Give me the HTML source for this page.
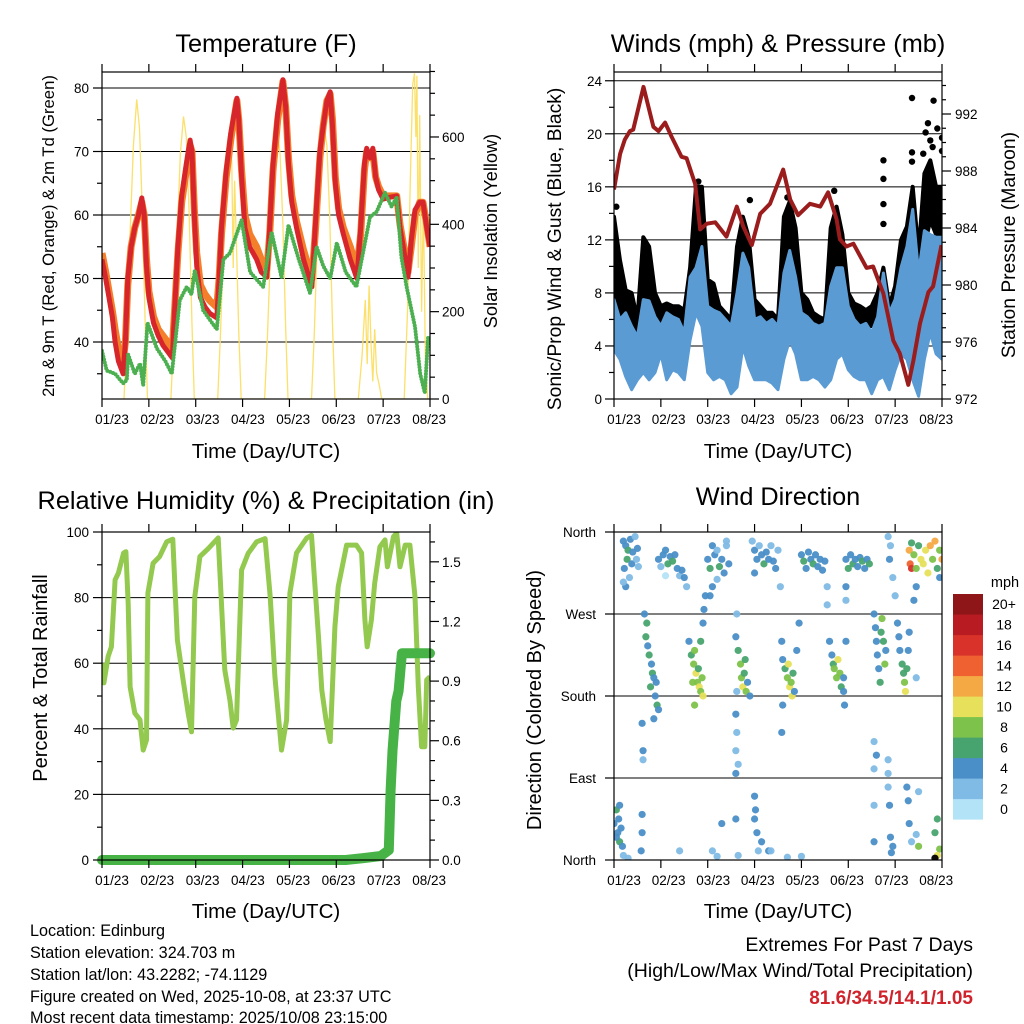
<!DOCTYPE html>
<html><head><meta charset="utf-8"><style>
body{margin:0;background:#fff}
svg{display:block;font-family:"Liberation Sans",sans-serif}
</style></head><body>
<svg id="chart" width="1024" height="1024" viewBox="0 0 1024 1024" xmlns="http://www.w3.org/2000/svg">
<rect width="1024" height="1024" fill="#fff"/>
<defs>
<clipPath id="c1"><rect x="102" y="72" width="328" height="327"/></clipPath>
<clipPath id="c2"><rect x="614" y="72" width="328" height="327"/></clipPath>
<clipPath id="c3"><rect x="102" y="532" width="328" height="328"/></clipPath>
<clipPath id="c4"><rect x="614" y="532" width="328" height="328"/></clipPath>
</defs>
<text x="266" y="52" font-size="25.3" text-anchor="middle">Temperature (F)</text>
<text x="778" y="52" font-size="25.3" text-anchor="middle">Winds (mph) &amp; Pressure (mb)</text>
<text x="266" y="509" font-size="25.3" text-anchor="middle">Relative Humidity (%) &amp; Precipitation (in)</text>
<text x="778" y="505" font-size="25.3" text-anchor="middle">Wind Direction</text>
<text transform="translate(54,236) rotate(-90)" font-size="16.7" text-anchor="middle">2m &amp; 9m T (Red, Orange) &amp; 2m Td (Green)</text>
<text transform="translate(497,231) rotate(-90)" font-size="18.2" text-anchor="middle">Solar Insolation (Yellow)</text>
<text transform="translate(561,249) rotate(-90)" font-size="19.3" text-anchor="middle">Sonic/Prop Wind &amp; Gust (Blue, Black)</text>
<text transform="translate(1015,245) rotate(-90)" font-size="19.3" text-anchor="middle">Station Pressure (Maroon)</text>
<text transform="translate(47,678) rotate(-90)" font-size="20" text-anchor="middle">Percent &amp; Total Rainfall</text>
<text transform="translate(541,700) rotate(-90)" font-size="20" text-anchor="middle">Direction (Colored By Speed)</text>
<text x="266" y="458" font-size="20.5" text-anchor="middle">Time (Day/UTC)</text>
<text x="778" y="458" font-size="20.5" text-anchor="middle">Time (Day/UTC)</text>
<text x="266" y="918" font-size="20.5" text-anchor="middle">Time (Day/UTC)</text>
<text x="778" y="918" font-size="20.5" text-anchor="middle">Time (Day/UTC)</text>
<g font-size="16.2">
<text x="30" y="936">Location: Edinburg</text>
<text x="30" y="958">Station elevation: 324.703 m</text>
<text x="30" y="980">Station lat/lon: 43.2282; -74.1129</text>
<text x="30" y="1002">Figure created on Wed, 2025-10-08, at 23:37 UTC</text>
<text x="30" y="1023">Most recent data timestamp: 2025/10/08 23:15:00</text>
</g>
<text x="973" y="951" font-size="19.5" text-anchor="end">Extremes For Past 7 Days</text>
<text x="973" y="977" font-size="19.5" text-anchor="end">(High/Low/Max Wind/Total Precipitation)</text>
<text x="973" y="1004" font-size="19" font-weight="bold" fill="#d0232b" text-anchor="end">81.6/34.5/14.1/1.05</text>
<text x="1005" y="587" font-size="14.5" text-anchor="middle">mph</text>
</svg>
<script>
// ---------- DATA ----------
const dayLabels=["01/23","02/23","03/23","04/23","05/23","06/23","07/23","08/23"];
const tempDays=[0,0.08,0.15,0.22,0.28,0.35,0.45,0.5,0.55,0.62,0.7,0.78,0.85,0.9,0.95,1.0,1.1,1.2,1.3,1.4,1.5,1.55,1.62,1.7,1.8,1.88,1.92,1.97,2.02,2.1,2.2,2.3,2.45,2.5,2.55,2.65,2.75,2.88,2.92,2.98,3.05,3.15,3.3,3.4,3.52,3.58,3.65,3.75,3.86,3.92,3.98,4.05,4.15,4.3,4.48,4.55,4.65,4.72,4.8,4.87,4.92,4.98,5.05,5.15,5.3,5.44,5.52,5.6,5.65,5.72,5.78,5.84,5.9,6.0,6.15,6.29,6.36,6.43,6.53,6.6,6.68,6.78,6.85,6.95,7];
const tempVals=[53,50,47,44,40,37,35,40,50,55,58,60,62.7,60,52,47,43,41,39.5,38.5,37.5,45,55,63,68,71.8,70,60,52,47,45.5,44.5,43.8,50,58,67,73,78.4,75,66,58,55,53,51,50.2,58,68,76,81.3,77,68,62,58,53,48.7,58,70,74,78,79.4,74,65,60,57,53,50,58,68,70.5,69,70.5,66,64,62.5,62.8,63,58,55,50.2,56,60.8,62,62,57,55];
const t9Vals=[54,51,48,45,42,39,37,40,49,55,58,60,62,60,53,48,44,42,41,40,39,45,54,62,67,71,70,61,54,49,47.5,46.5,45.5,50,57,66,72,78,75,67,60,57,55,53,51.5,57,67,75,81,77,69,63,59,54.5,50,57,69,74,78,79,75,66,61,58,55,51.5,57,67,70,69,70,66,64.5,63,63,63,58.5,55.5,51,55,60,62,62,57.5,55];
const tdDays=[0,0.1,0.28,0.45,0.53,0.56,0.7,0.81,0.88,0.97,1.17,1.35,1.49,1.66,1.81,1.91,1.98,2.16,2.35,2.45,2.59,2.73,2.98,3.16,3.44,3.62,3.83,3.98,4.2,4.44,4.58,4.72,4.87,5.01,5.2,5.43,5.72,5.86,6.04,6.18,6.29,6.39,6.5,6.68,6.79,6.89,6.96];
const tdVals=[38.6,35.5,35,33.5,34,38,35,36.6,33.2,43,39,37,35,46.6,48.7,47.5,51.3,45,43,42,53,54,59.2,51,48.7,57.3,50.2,58.4,53,47.7,55,52,50,55.6,51,48.7,59.7,60.5,63.5,61.3,62.8,53.4,48.7,42.4,35,32,40.8];
const solarDays=[0.47,0.53,0.6,0.67,0.74,0.8,0.86,0.92,0.97,1.47,1.53,1.6,1.67,1.74,1.8,1.86,1.92,1.97,2.47,2.53,2.6,2.67,2.73,2.77,2.8,2.83,2.87,2.92,2.97,3.47,3.53,3.6,3.67,3.74,3.8,3.86,3.92,3.97,4.47,4.53,4.6,4.67,4.72,4.8,4.86,4.92,4.97,5.47,5.55,5.62,5.66,5.7,5.74,5.78,5.82,5.86,5.92,5.97,6.45,6.52,6.58,6.63,6.67,6.7,6.72,6.75,6.78,6.82,6.86,6.9,6.95];
const solarVals=[0,150,380,580,686,620,430,180,0,0,140,360,560,647,600,420,170,0,0,150,370,560,621,540,300,500,350,150,0,0,140,350,540,621,560,400,160,0,0,150,380,560,639,580,420,170,0,0,100,227,80,260,128,40,160,60,30,0,0,200,500,720,746,600,740,300,650,200,450,100,0];
const windDays=[0,0.125,0.25,0.375,0.5,0.625,0.75,0.875,1,1.125,1.25,1.375,1.5,1.625,1.75,1.875,2,2.125,2.25,2.375,2.5,2.625,2.75,2.875,3,3.125,3.25,3.375,3.5,3.625,3.75,3.875,4,4.125,4.25,4.375,4.5,4.625,4.75,4.875,5,5.125,5.25,5.375,5.5,5.625,5.75,5.875,6,6.125,6.25,6.375,6.5,6.625,6.75,6.875,7];
const windHi=[7.5,6.0,6.5,5.5,4.7,7.5,7.4,6.2,5.5,6.5,6.2,6.0,5.0,9.2,9.9,11.5,7.0,6.7,6.5,6.0,5.5,8.0,11.0,9.9,6.0,6.2,5.7,6.0,5.5,9.5,11.2,9.2,6.5,6.2,5.7,5.5,5.7,8.5,9.9,9.9,7.0,6.0,5.5,5.7,5.0,6.2,9.5,6.5,7.5,9.9,11.5,14.3,9.5,12.7,12.4,12.2,12.2];
const windLo=[3.7,3.0,1.7,0.7,1.45,2.0,1.45,2.0,3.4,1.45,2.2,2.0,1.45,4.45,6.5,5.5,2.0,1.45,1.7,1.45,0.4,0.9,3.95,2.5,1.45,1.45,1.45,1.2,0.7,3.0,4.45,3.4,1.45,1.45,1.7,1.45,0.9,1.45,3.0,3.4,2.2,1.7,1.45,1.45,0.4,1.45,1.7,0.7,2.2,3.4,3.0,1.45,0.2,3.0,5.0,3.4,3.0];
const gustHi=[13.75,10.5,8.2,8.0,6.0,12.2,11.5,8.0,7.0,7.2,7.0,7.0,6.7,9.9,16,16,9.0,8.7,7.0,6.5,6.0,11.5,13.75,12.2,7.5,7.0,6.5,6.5,6.0,13.75,14.9,12.9,8.0,7.5,6.5,6.2,6.0,12.9,14.5,12.4,8.0,7.2,7.0,6.7,7.0,8.0,9.9,7.0,8.5,12,13,16,11,17,18,16,16];
const gustLo=[8.0,6.7,5.5,4.45,4.45,7.5,6.5,5.5,5.5,5.7,5.5,5.5,5.0,8.0,10.5,11.5,6.5,6.0,5.5,5.0,3.95,6.5,9.9,8.0,5.7,5.5,5.5,5.2,4.45,8.0,10.5,8.0,6.0,5.7,5.5,5.2,5.0,8.5,9.9,8.0,6.2,5.7,5.5,5.5,5.5,5.7,6.5,5.5,6.5,9.5,10.5,11.5,8.5,11.5,13.5,12.4,12.0];
const gustPtDays=[5.75,5.75,5.75,5.75,6.36,6.36,6.36,6.82,6.7,6.75,7.0,7.0,2.9,4.7,0.05,1.8,3.7,6.6,6.65,6.8,6.9];
const gustPtVals=[18,16.6,14.7,13.2,22.7,17.9,18.6,22.5,20.8,19.5,19.7,18.7,15,15.7,14.5,16.4,15.2,18.5,20.1,19,20.4];
const presDays=[0,0.13,0.23,0.34,0.41,0.63,0.84,0.95,1.09,1.23,1.44,1.55,1.73,1.84,1.98,2.16,2.4,2.62,2.76,2.94,3.12,3.33,3.61,3.76,3.93,4.18,4.4,4.57,4.75,4.82,4.96,5.11,5.39,5.53,5.75,5.96,6.1,6.28,6.39,6.53,6.71,6.81,6.99];
const presVals=[986.7,989.2,990.2,990.8,990.9,993.9,991.1,990.8,991.4,990.4,989,988.9,987.1,983.9,984.3,984.4,983.4,985.5,984.1,982.8,985,985.7,988.1,986,984.9,985.7,985.5,986.5,984.6,983.2,982.7,982.9,981.2,981.3,979.4,976.1,975.2,973,974.7,977.3,979.5,979.9,982.8];
const rhDays=[0,0.04,0.13,0.2,0.28,0.35,0.46,0.51,0.56,0.6,0.7,0.81,0.88,0.95,0.98,1.09,1.23,1.38,1.51,1.61,1.73,1.84,1.91,1.98,2.09,2.27,2.48,2.62,2.73,2.8,2.87,2.98,3.12,3.3,3.48,3.59,3.69,3.83,3.94,4.01,4.15,4.37,4.47,4.62,4.69,4.78,4.87,4.97,5.04,5.22,5.43,5.54,5.61,5.66,5.75,5.82,5.93,6.04,6.09,6.22,6.29,6.36,6.47,6.57,6.68,6.75,6.82,6.89,6.93,7];
const rhVals=[60,54,62,65,85.4,87.5,93.6,94,78,52.8,44.8,42.7,33.5,36.6,81.4,90.5,92.5,97,97.8,67,54.9,44.7,39.1,80.3,92.5,95,98.2,57.9,48.8,40.2,42.7,88.4,93.5,97,98,80.3,55.9,33.5,42.7,81.4,93.6,98.2,99,68,51.8,42.7,36.1,71,83.3,96,96,93.6,73.2,65,73.2,84.4,95.5,97.6,89.4,98.6,99.7,89.4,96,96,80.3,52.8,34.5,34.5,54.9,55.9];
const precipDays=[0,5.2,5.6,5.95,6.12,6.16,6.2,6.28,6.33,6.4,7];
const precipVals=[0,0,0.01,0.02,0.05,0.35,0.55,0.8,0.85,1.04,1.04];
const dirDays=[0.2,0.25,0.3,0.35,0.4,0.45,0.5,0.22,0.28,0.33,0.38,0.48,0.52,0.25,0.2,0.95,1.05,1.1,1.15,1.2,1.25,1.3,1.35,1.4,1.5,1.45,1.0,1.1,1.55,2.0,2.05,2.1,2.15,2.2,2.25,2.3,2.35,2.4,2.45,2.1,2.05,2.4,2.2,2.95,3.0,3.05,3.1,3.15,3.2,3.25,3.3,3.35,3.4,3.45,3.5,3.55,3.0,4.0,4.05,4.1,4.15,4.2,4.25,4.3,4.35,4.4,4.45,4.5,4.55,4.55,4.95,5.0,5.05,5.1,5.15,5.2,5.25,5.3,5.35,5.4,5.45,4.95,4.95,5.85,5.9,5.88,5.95,6.0,6.3,6.32,6.35,6.35,6.4,6.45,6.5,6.55,6.6,6.65,6.7,6.75,6.8,6.85,6.9,6.95,7.0,6.45,6.4,6.95,0.65,0.7,0.68,0.72,0.75,0.8,0.82,0.85,0.9,0.88,0.92,0.78,0.95,0.6,0.62,0.62,0.85,1.6,1.65,1.7,1.72,1.75,1.78,1.8,1.82,1.85,1.88,1.68,1.9,1.72,1.85,1.9,1.92,1.95,2.6,2.65,2.7,2.72,2.75,2.78,2.8,2.82,2.85,2.9,2.62,2.6,2.62,2.6,2.65,2.6,2.62,3.58,3.6,3.65,3.7,3.72,3.75,3.78,3.8,3.82,3.85,3.9,3.95,3.6,3.58,4.6,4.65,4.68,4.7,4.75,4.78,4.82,4.85,4.9,4.92,4.9,4.95,5.55,5.58,5.6,5.62,5.65,5.68,5.7,5.72,5.75,5.78,5.8,5.55,5.55,5.6,5.85,5.85,6.05,6.08,6.1,6.15,6.18,6.2,6.22,6.25,6.28,6.3,6.45,0.0,0.05,0.08,0.1,0.12,0.15,0.18,0.05,0.12,0.2,0.3,0.6,0.6,0.58,1.4,2.1,2.2,2.3,2.6,2.65,3.0,3.0,3.02,3.05,3.08,3.15,3.3,3.35,3.7,4.0,5.55,5.55,5.85,5.88,5.9,5.92,5.95,6.25,6.28,6.3,6.35,6.5,6.45,6.5,6.85,6.9,6.95,6.9,6.85];
const dirVals=[350,345,340,352,338,355,342,320,330,310,325,330,322,300,305,330,335,340,325,333,328,335,320,312,310,318,322,312,300,330,320,345,335,340,322,330,315,350,325,300,290,345,308,350,340,330,345,335,325,338,330,345,328,320,340,300,315,335,328,320,338,330,325,335,322,330,318,328,300,280,330,320,335,325,330,322,332,328,320,330,325,300,285,355,345,330,310,290,340,325,320,348,335,320,345,330,325,340,315,345,330,350,320,340,330,300,285,310,270,260,245,235,225,215,205,200,195,180,170,190,165,150,120,110,155,240,225,215,230,205,195,210,190,185,200,195,180,170,240,260,275,290,245,230,215,200,190,205,220,185,195,180,185,160,140,120,105,95,270,240,220,210,200,215,190,195,180,205,185,230,260,170,140,240,225,215,210,200,220,205,190,185,170,200,240,270,255,240,225,210,195,250,265,240,215,230,130,100,115,110,95,260,245,230,215,205,195,185,210,230,250,200,40,55,30,45,20,35,15,25,60,5,2,50,30,10,10,10,4,40,45,5,70,45,55,30,10,20,10,10,3,4,60,20,80,60,25,8,15,80,65,40,20,75,28,15,30,45,12,5,2];
const dirSpeeds=[4,4,6,4,4,2,4,4,6,2,4,2,2,4,2,4,4,4,6,4,6,4,4,2,4,4,2,0,2,4,6,4,4,2,6,4,4,2,4,4,4,2,2,2,4,4,2,4,6,4,4,2,4,4,2,2,4,4,6,4,4,4,6,4,4,4,4,4,2,2,4,6,4,6,4,4,4,6,4,4,6,4,2,2,2,4,2,2,12,14,16,6,8,8,6,10,10,10,10,12,8,12,6,8,12,4,4,4,4,6,6,4,6,4,6,4,4,4,6,6,4,4,4,2,4,4,6,8,8,10,8,6,10,8,8,8,10,8,6,4,4,4,4,6,8,8,10,6,6,8,4,4,2,4,2,2,2,4,2,4,4,6,8,10,10,8,10,6,4,4,4,4,4,4,4,6,8,8,10,8,6,4,4,4,4,4,4,4,4,4,6,6,8,6,8,4,2,2,4,2,2,4,4,4,6,6,8,10,6,4,4,2,4,6,4,4,6,4,4,4,4,2,2,4,4,4,2,2,2,4,4,2,4,4,4,4,2,4,4,2,2,2,2,4,2,4,4,4,4,4,4,4,2,2,2,8,6,6,8,10];
const speedBins=["0","2","4","6","8","10","12","14","16","18","20+"];
const speedColors=["#b3e3f7","#7fbbe5","#4a8fc7","#48a46f","#7dc24a","#e6e05a","#f5a945","#ef6130","#d8322a","#b81c22","#8e1518"];
const tempTicks=[40,50,60,70,80];
const solarTicks=[0,200,400,600];
const windTicks=[0,4,8,12,16,20,24];
const presTicks=[972,976,980,984,988,992];
const rhTicks=[0,20,40,60,80,100];
const precipTicks=["0.0","0.3","0.6","0.9","1.2","1.5"];
const dirTicks=["North","East","South","West","North"];

// ---------- SETUP ----------
const NS='http://www.w3.org/2000/svg';
const svg=document.getElementById('chart');
function mk(tag,attrs,parent){const e=document.createElementNS(NS,tag);for(const k in attrs)e.setAttribute(k,attrs[k]);(parent||svg).appendChild(e);return e;}
const tx=d=>102+d*328/7;
const wx=d=>614+d*328/7;
const tY=t=>88+(80-t)*6.35;
const sY=v=>399-v*0.4367;
const wY=v=>399-v*13.26;
const pY=p=>399-(p-972)*14.25;
const rY=v=>860-v*3.28;
const prY=v=>860-v/1.65*328;
const dY=a=>860-a/360*328;
function pts(xs,ys,fx,fy){return xs.map((d,i)=>fx(d).toFixed(1)+','+fy(ys[i]).toFixed(1)).join(' ');}

const grid=mk('g',{stroke:'#000','stroke-width':1});


tempTicks.forEach(t=>{const l=mk('line',{x1:102,x2:430,y1:tY(t),y2:tY(t)},grid);

});
windTicks.slice(1).forEach(t=>{const l=mk('line',{x1:614,x2:942,y1:wY(t),y2:wY(t)},grid);

});
rhTicks.slice(1,5).forEach(t=>{const l=mk('line',{x1:102,x2:430,y1:rY(t),y2:rY(t)},grid);

});
[90,180,270].forEach(t=>{const l=mk('line',{x1:614,x2:942,y1:dY(t),y2:dY(t)},grid);

});

// ---------- PANEL 1 ----------
const g1=mk('g',{'clip-path':'url(#c1)'});


const sol=mk('polyline',{points:pts(solarDays,solarVals,tx,sY),fill:'none',stroke:'#fbe06a','stroke-width':1.3},g1);


const t9=mk('polyline',{points:pts(tempDays,t9Vals,tx,tY),fill:'none',stroke:'#f47f2b','stroke-width':7,'stroke-linejoin':'round'},g1);


const t2=mk('polyline',{points:pts(tempDays,tempVals,tx,tY),fill:'none',stroke:'#d7262b','stroke-width':5,'stroke-linejoin':'round'},g1);


const td=mk('polyline',{points:pts(tdDays,tdVals,tx,tY),fill:'none',stroke:'#4cb050','stroke-width':4,'stroke-dasharray':'0 3','stroke-linecap':'round','stroke-linejoin':'round'},g1);



// ---------- PANEL 2 ----------
const g2=mk('g',{'clip-path':'url(#c2)'});


const gb=mk('polygon',{points:pts(windDays,gustHi,wx,wY)+' '+pts(windDays.slice().reverse(),gustLo.slice().reverse(),wx,wY),fill:'#000',stroke:'#000','stroke-width':4,'stroke-linejoin':'round'},g2);


gustPtDays.forEach((d,i)=>{const c=mk('circle',{cx:wx(d),cy:wY(gustPtVals[i]),r:3.2,fill:'#000'},g2);

});
const wb=mk('polygon',{points:pts(windDays,windHi,wx,wY)+' '+pts(windDays.slice().reverse(),windLo.slice().reverse(),wx,wY),fill:'#5a9bd4',stroke:'#5a9bd4','stroke-width':3,'stroke-linejoin':'round'},g2);


const pl=mk('polyline',{points:pts(presDays,presVals,wx,pY),fill:'none',stroke:'#9b1c1c','stroke-width':4,'stroke-linejoin':'round'},g2);



// ---------- PANEL 3 ----------
const g3=mk('g',{});


const rh=mk('polyline',{points:pts(rhDays,rhVals,tx,rY),fill:'none',stroke:'#92c94e','stroke-width':5,'stroke-linejoin':'round','clip-path':'url(#c3)'},g3);


const pr=mk('polyline',{points:pts(precipDays,precipVals,tx,prY),fill:'none',stroke:'#47b347','stroke-width':10,'stroke-linejoin':'round','stroke-linecap':'round'},g3);



// ---------- PANEL 4 ----------
const g4=mk('g',{'clip-path':'url(#c4)'});


dirDays.forEach((d,i)=>{const b=Math.min(10,Math.floor(dirSpeeds[i]/2));
const c=mk('circle',{cx:wx(d),cy:dY(dirVals[i]),r:3.6,fill:speedColors[b],'fill-opacity':0.95},g4);

});
for(let i=0;i<11;i++){const y=594+(10-i)*20.5;
const r=mk('rect',{x:953,y:y,width:30,height:20.6,fill:speedColors[i]});


const t=mk('text',{x:1004,y:y+15,'font-size':14,'text-anchor':'middle'});


t.textContent=speedBins[i];}

// ---------- FRAMES & AXES ----------
const ax=mk('g',{stroke:'#000','stroke-width':1.2,fill:'none'});


[[102,72,328,327],[614,72,328,327],[102,532,328,328],[614,532,328,328]].forEach(r=>{
const f=mk('rect',{x:r[0],y:r[1],width:r[2],height:r[3]},ax);

});
function tick(x1,y1,x2,y2,w){mk('line',{x1,y1,x2,y2,'stroke-width':w||1.2},ax);}
function label(x,y,s,anchor,name){const t=mk('text',{x,y,'font-size':13.5,'text-anchor':anchor,fill:'#000',stroke:'none'});


t.textContent=s;}
[[102,72,399,'temp'],[614,72,399,'wind'],[102,532,860,'rh'],[614,532,860,'dir']].forEach(p=>{
for(let i=0;i<8;i++){const x=p[0]+i*328/7;tick(x,p[2],x,p[2]+8);tick(x,p[1],x,p[1]-8);
label(p[0]+10+i*(p[0]===102?45.3:44.6),p[2]+25,dayLabels[i],'middle',p[3]+'-x-tick-label');}});
for(let t=35;t<=80;t+=5){tick(102,tY(t),t%10===0?93:97,tY(t));}
tempTicks.forEach(t=>label(89,tY(t)+5,String(t),'end','temp-tick-label'));
for(let v=0;v<=750;v+=50){tick(430,sY(v),v%200===0?439:435,sY(v));}
solarTicks.forEach(v=>label(442,sY(v)+5,String(v),'start','solar-tick-label'));
for(let v=0;v<=24;v+=2){tick(614,wY(v),v%4===0?605:609,wY(v));}
windTicks.forEach(v=>label(602,wY(v)+5,String(v),'end','wind-tick-label'));
for(let p=972;p<=994;p+=1){tick(942,pY(p),p%4===0?951:946,pY(p));}
presTicks.forEach(p=>label(955,pY(p)+5,String(p),'start','pressure-tick-label'));
for(let v=0;v<=100;v+=10){tick(102,rY(v),v%20===0?93:97,rY(v));}
rhTicks.forEach(v=>label(89,rY(v)+5,String(v),'end','rh-tick-label'));
for(let k=0;k<=16;k++){const v=k*0.1;tick(430,prY(v),k%3===0?439:435,prY(v));}
precipTicks.forEach(s=>label(442,prY(parseFloat(s))+5,s,'start','precip-tick-label'));
dirTicks.forEach((s,i)=>{const y=dY(i*90);tick(614,y,605,y);label(596,y+5,s,'end','direction-tick-label');});
</script>
</body></html>
